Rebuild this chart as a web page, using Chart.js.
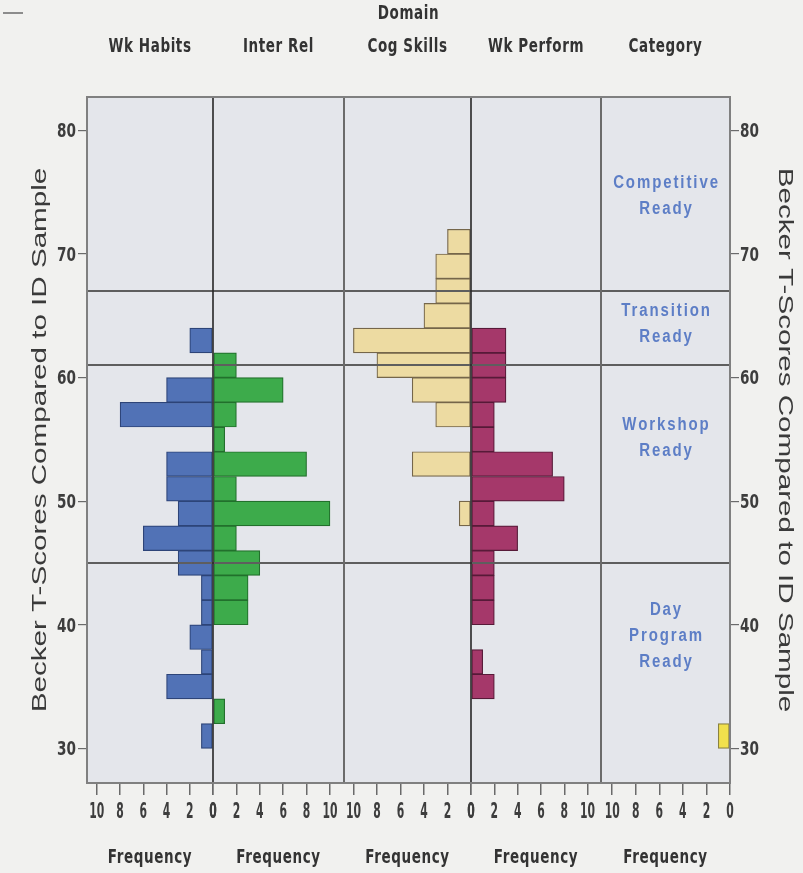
<!DOCTYPE html>
<html>
<head>
<meta charset="utf-8">
<title>Becker T-Scores by Domain</title>
<script src="https://cdn.jsdelivr.net/npm/chart.js@4.4.1/dist/chart.umd.min.js"></script>
<style>
  html, body { margin: 0; padding: 0; background: #f1f1ef; }
  #wrap { position: relative; width: 803px; height: 873px; }
</style>
</head>
<body>
<div id="wrap"><canvas id="chart" width="803" height="873"></canvas></div>
<script>
// ---- data -------------------------------------------------------------
// Lower edge of each 2-point T-score bin
const binStarts = [30, 32, 34, 36, 38, 40, 42, 44, 46, 48, 50, 52, 54, 56, 58, 60, 62, 64, 66, 68, 70, 72];
const binWidth = 2;

// Frequencies per bin, one list per domain
const wkHabits   = [1, 0, 4, 1, 2, 1, 1, 3, 6, 3, 4, 4, 0, 8, 4, 0, 2, 0, 0, 0, 0, 0];
const interRel   = [0, 1, 0, 0, 0, 3, 3, 4, 2, 10, 2, 8, 1, 2, 6, 2, 0, 0, 0, 0, 0, 0];
const cogSkills  = [0, 0, 0, 0, 0, 0, 0, 0, 0, 1, 0, 5, 0, 3, 5, 8, 10, 4, 3, 3, 2, 0];
const wkPerform  = [0, 0, 2, 1, 0, 2, 2, 2, 4, 2, 8, 7, 2, 2, 3, 3, 3, 0, 0, 0, 0, 0];
const categoryN  = [1, 0, 0, 0, 0, 0, 0, 0, 0, 0, 0, 0, 0, 0, 0, 0, 0, 0, 0, 0, 0, 0];

const domainNames = ['Wk Habits', 'Inter Rel', 'Cog Skills', 'Wk Perform', 'Category'];
const scoreTicks  = [30, 40, 50, 60, 70, 80];
const freqTicks   = [0, 2, 4, 6, 8, 10];

// Readiness bands: cut scores and their names (bottom to top)
const bandCuts  = [45, 61, 67];
const bandNames = [['Day', 'Program', 'Ready'], ['Workshop', 'Ready'], ['Transition', 'Ready'], ['Competitive', 'Ready']];

// ---- look & layout ----------------------------------------------------
const NARROW = "'Liberation Sans Narrow','DejaVu Sans Condensed','Arial Narrow',sans-serif";
const SANS   = "'Liberation Sans','DejaVu Sans',Arial,sans-serif";

const colIds     = ['x0', 'x1', 'x2', 'x3', 'x4'];
const colReverse = [true, false, true, false, true];
const colMax     = [10.85, 11.2, 10.8, 11.15, 10.95];
const colWeight  = [126, 131, 127, 130, 129];
const bandLabelAt = [39.1, 55.1, 64.3, 74.7];

const seriesStyle = [
  { fill: '#5172b6', edge: '#2d4478' },
  { fill: '#3dab4b', edge: '#22702c' },
  { fill: '#eddba2', edge: '#75664a' },
  { fill: '#a5386a', edge: '#571a38' },
  { fill: '#f1e04c', edge: '#8a8240' }
];
const seriesData = [wkHabits, interRel, cogSkills, wkPerform, categoryN];

function binPoints(counts) {
  return counts
    .map((c, i) => ({ x: c, y: binStarts[i] + binWidth / 2 }))
    .filter(p => p.x > 0);
}

const datasets = seriesData.map((counts, i) => ({
  label: domainNames[i],
  data: binPoints(counts),
  xAxisID: colIds[i],
  yAxisID: 'y',
  backgroundColor: seriesStyle[i].fill,
  borderColor: seriesStyle[i].edge,
  borderWidth: 1.2,
  borderSkipped: false,
  grouped: false,
  barPercentage: 1,
  categoryPercentage: 1
}));

const tickColor = '#3d3d3d';

function scoreAxis(position, width) {
  return {
    type: 'linear', position, min: 27.2, max: 82.7, offset: false,
    afterBuildTicks: s => { s.ticks = scoreTicks.map(v => ({ value: v })); },
    afterFit: s => { s.width = width; },
    grid: { drawOnChartArea: false, offset: false, tickLength: 9, color: '#6a6a6a', lineWidth: 1.2 },
    border: { display: false },
    ticks: { display: false }
  };
}
const scales = { y: scoreAxis('left', 67), yR: scoreAxis('right', 68) };
colIds.forEach((id, i) => {
  scales[id] = {
    type: 'linear', position: 'bottom', stack: 'freq', stackWeight: colWeight[i],
    reverse: colReverse[i], min: 0, max: colMax[i], offset: false,
    afterBuildTicks: s => { s.ticks = freqTicks.map(v => ({ value: v })); },
    afterFit: s => { s.height = 90; },
    grid: { drawOnChartArea: false, tickLength: 12, color: '#6a6a6a', lineWidth: 1.5 },
    border: { display: false },
    ticks: { display: false }
  };
});

// ---- drawing helpers ----------------------------------------------------
function putText(ctx, str, x, y, o) {
  ctx.save();
  ctx.font = o.font;
  ctx.fillStyle = o.color;
  ctx.textAlign = o.align || 'center';
  ctx.textBaseline = 'middle';
  if ('letterSpacing' in ctx) ctx.letterSpacing = (o.spacing || 0) + 'px';
  ctx.translate(x, y);
  if (o.rot) ctx.rotate(o.rot);
  ctx.scale(o.sx || 1, o.sy || 1);
  ctx.fillText(str, 0, 0);
  ctx.restore();
}

const panelBackdrop = {
  id: 'panelBackdrop',
  beforeDraw(chart) {
    const { ctx, chartArea: a } = chart;
    ctx.save();
    ctx.fillStyle = '#f1f1ef';
    ctx.fillRect(0, 0, chart.width, chart.height);
    ctx.fillStyle = '#e4e6eb';
    ctx.fillRect(a.left, a.top, a.right - a.left, a.bottom - a.top);
    // short rule in the top-left margin
    ctx.strokeStyle = '#8c8c8c';
    ctx.lineWidth = 2;
    ctx.beginPath(); ctx.moveTo(3, 13); ctx.lineTo(23, 13); ctx.stroke();
    ctx.restore();
  }
};

const panelRules = {
  id: 'panelRules',
  afterDatasetsDraw(chart) {
    const { ctx, chartArea: a, scales: sc } = chart;
    ctx.save();
    // readiness band boundaries
    ctx.strokeStyle = '#5e5e5e';
    ctx.lineWidth = 2;
    bandCuts.forEach(v => {
      const y = Math.round(sc.y.getPixelForValue(v));
      ctx.beginPath(); ctx.moveTo(a.left, y); ctx.lineTo(a.right, y); ctx.stroke();
    });
    // zero lines shared by paired domains
    ctx.strokeStyle = '#262626';
    ctx.lineWidth = 1.6;
    [sc.x0.right, sc.x2.right].forEach(x => {
      ctx.beginPath(); ctx.moveTo(x, a.top); ctx.lineTo(x, a.bottom); ctx.stroke();
    });
    // panel dividers
    ctx.strokeStyle = '#6b6b6b';
    ctx.lineWidth = 2;
    [sc.x1.right, sc.x3.right].forEach(x => {
      ctx.beginPath(); ctx.moveTo(x, a.top); ctx.lineTo(x, a.bottom); ctx.stroke();
    });
    // outer frame
    ctx.strokeStyle = '#808080';
    ctx.lineWidth = 2;
    ctx.strokeRect(a.left, a.top, a.right - a.left, a.bottom - a.top);
    ctx.restore();
  }
};

const panelLabels = {
  id: 'panelLabels',
  afterDraw(chart) {
    const { ctx, chartArea: a, scales: sc } = chart;

    // tick labels, placed from each scale's own ticks
    const xo = { font: 'bold 12px ' + NARROW, color: tickColor, sy: 1.7 };
    colIds.forEach(id => {
      const s = sc[id];
      s.ticks.forEach(t => putText(ctx, String(t.value), s.getPixelForValue(t.value), 812.5, xo));
    });
    const yo = { font: 'bold 14px ' + NARROW, color: tickColor, sy: 1.35, sx: 1.08 };
    sc.y.ticks.forEach(t => {
      putText(ctx, String(t.value), sc.y.right - 11, sc.y.getPixelForValue(t.value) + 2, Object.assign({ align: 'right' }, yo));
    });
    sc.yR.ticks.forEach(t => {
      putText(ctx, String(t.value), sc.yR.left + 10, sc.yR.getPixelForValue(t.value) + 2, Object.assign({ align: 'left' }, yo));
    });

    // domain headers and frequency titles
    const head = { font: 'bold 15px ' + NARROW, color: '#333333', sy: 1.25, spacing: 0.6 };
    putText(ctx, 'Domain', (a.left + a.right) / 2, 14, head);
    colIds.forEach((id, i) => {
      const cx = (sc[id].left + sc[id].right) / 2;
      putText(ctx, domainNames[i], cx, 47, head);
      putText(ctx, 'Frequency', cx, 858, head);
    });

    // band names inside the Category column
    const cx = (sc.x4.left + sc.x4.right) / 2;
    const lab = { font: 'bold 15px ' + SANS, color: '#5d7ec6', sy: 1.2, spacing: 1.9 };
    bandNames.forEach((lines, i) => {
      const yc = sc.y.getPixelForValue(bandLabelAt[i]);
      const lh = 26;
      lines.forEach((t, k) => {
        putText(ctx, t, cx + 1, yc + (k - (lines.length - 1) / 2) * lh, lab);
      });
    });

    // axis titles on both sides
    const title = { font: '20px ' + SANS, color: '#3a3a3a', sx: 1.48 };
    const yc = (a.top + a.bottom) / 2;
    putText(ctx, 'Becker T-Scores Compared to ID Sample', 40, yc, Object.assign({ rot: -Math.PI / 2 }, title));
    putText(ctx, 'Becker T-Scores Compared to ID Sample', 785, yc, Object.assign({ rot: Math.PI / 2 }, title));
  }
};

new Chart(document.getElementById('chart'), {
  type: 'bar',
  data: { datasets },
  options: {
    indexAxis: 'y',
    responsive: false,
    animation: false,
    layout: { padding: { left: 20, right: 5, top: 97, bottom: 0 } },
    plugins: { legend: { display: false }, tooltip: { enabled: false }, title: { display: false } },
    scales
  },
  plugins: [panelBackdrop, panelRules, panelLabels]
});
</script>
</body>
</html>
